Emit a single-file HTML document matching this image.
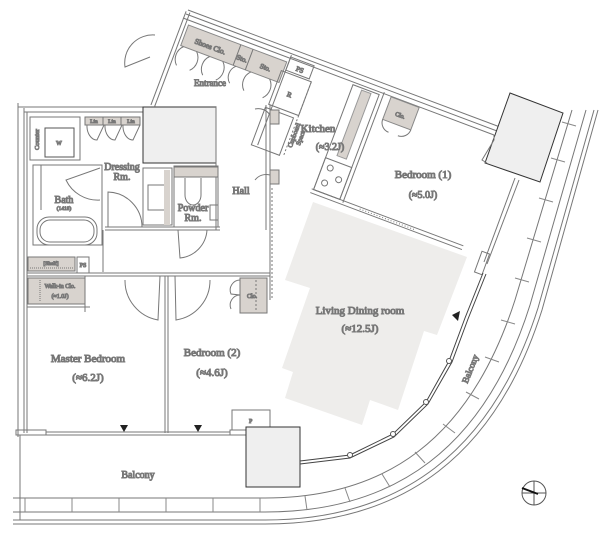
<!DOCTYPE html>
<html><head><meta charset="utf-8"><style>
html,body{margin:0;padding:0;background:#fff;}
svg{display:block;}
text{font-family:"Liberation Serif",serif;fill:#333;}
</style></head><body>
<svg width="610" height="543" viewBox="0 0 610 543" xmlns="http://www.w3.org/2000/svg">
<g fill="none" stroke="#777" stroke-width="1">

<!-- Living gray -->
<polygon points="313,202 467,257 437,335 424,331 398,410 370,400 362,425 285,398 293,372 282,368 310,288 285,280" fill="#eeedeb" stroke="none"/>

<!-- top wall -->
<line x1="188" y1="10" x2="500" y2="127"/>
<line x1="186" y1="14" x2="497" y2="131"/>
<line x1="183" y1="18" x2="494" y2="135"/>

<!-- Entrance rotated group -->
<g transform="translate(188,12) rotate(20.6)">
  <rect x="5" y="12" width="105" height="22" fill="#d8d3ce" stroke="#888"/>
  <line x1="61" y1="12" x2="61" y2="34"/>
  <line x1="74" y1="12" x2="74" y2="34"/>
  <line x1="-2" y1="0" x2="-2" y2="100"/>
  <line x1="2" y1="0" x2="2" y2="100"/>
  <path d="M8,34 a14,14 0 0 0 0,20 M22,34 a14,14 0 0 1 0,20 M36,34 a14,14 0 0 0 0,20 M50,34 a14,14 0 0 1 0,20 M64,34 a12,12 0 0 0 0,18 M80,34 a14,14 0 0 0 0,20 M100,34 a14,14 0 0 1 0,20"/>
  <line x1="112" y1="4" x2="112" y2="100"/>
  <rect x="112" y="6" width="25" height="14" />
  <rect x="108" y="22" width="32" height="36"/>
  <text x="124" y="44" font-size="7" text-anchor="middle">R</text>
  <text transform="translate(33,27)" font-size="7.5" text-anchor="middle">Shoes Clo.</text>
  <text transform="translate(67,27)" font-size="7" text-anchor="middle">Sto.</text>
  <text transform="translate(92,27)" font-size="7" text-anchor="middle">Sto.</text>
  <text transform="translate(125,17)" font-size="7" text-anchor="middle">PS</text>
  <line x1="140" y1="22" x2="140" y2="100" stroke-dasharray="2,2"/>
  <rect x="106" y="62" width="30" height="40"/>
  <!-- kitchen counter -->
  <rect x="190" y="12" width="10" height="70" fill="#d8d3ce" stroke="#999"/>
  <rect x="180" y="10" width="28" height="112"/>
  <rect x="180" y="88" width="28" height="34"/>
  <circle cx="188" cy="96" r="3"/><circle cx="200" cy="104" r="3"/><circle cx="188" cy="112" r="3"/>
  <line x1="212" y1="6" x2="212" y2="124"/>
  <!-- Clo in bedroom1 -->
  <rect x="220" y="8" width="30" height="24" fill="#d8d3ce" stroke="#888"/>
  <text x="235" y="24" font-size="6" text-anchor="middle">Clo.</text>
  <path d="M220,32 a10,10 0 0 0 10,10 M250,32 a10,10 0 0 1 -10,10"/>
  <line x1="178" y1="122" x2="340" y2="122"/>
  <line x1="178" y1="126" x2="340" y2="126"/>
  <line x1="230" y1="124" x2="290" y2="124" stroke-dasharray="1,2"/>
</g>
<text x="210" y="86" font-size="9" text-anchor="middle">Entrance</text>
<g transform="translate(296,136) rotate(-70)"><text font-size="6.5" text-anchor="middle">Cupboard</text><text y="7" font-size="6.5" text-anchor="middle">Space</text></g>

<!-- entrance door swing -->
<path d="M150,57 L125,67 A28,28 0 0 1 155,35"/>
<rect x="270" y="110" width="9" height="14" fill="#d8d3ce"/>
<rect x="270" y="170" width="9" height="14" fill="#d8d3ce"/>
<path d="M270,115 a14,14 0 0 0 -15,-6 M270,175 a14,14 0 0 0 -15,5"/>

<!-- left building outer -->
<line x1="18" y1="103" x2="18" y2="437"/>
<line x1="24" y1="108" x2="24" y2="433"/>
<line x1="18" y1="107" x2="143" y2="107"/>
<line x1="24" y1="112" x2="143" y2="112"/>
<line x1="27" y1="112" x2="27" y2="433"/>
<rect x="30" y="117" width="50" height="43"/>
<rect x="45" y="128" width="29" height="29" stroke="#555"/>
<text x="59" y="145" font-size="6" text-anchor="middle">W</text>
<g transform="translate(39,150) rotate(-90)"><text font-size="6.5">Counter</text></g>
<rect x="85" y="117" width="55" height="8" fill="#d8d3ce"/>
<line x1="103" y1="117" x2="103" y2="125"/><line x1="121" y1="117" x2="121" y2="125"/>
<text x="94" y="123" font-size="5.5" text-anchor="middle">Lin</text>
<text x="112" y="123" font-size="5.5" text-anchor="middle">Lin</text>
<text x="131" y="123" font-size="5.5" text-anchor="middle">Lin</text>
<path d="M87,125 a10,14 0 0 0 10,15 L104,125 M105,125 a10,14 0 0 0 10,15 L122,125 M123,125 a10,14 0 0 0 10,15 L140,125"/>
<rect x="143" y="107" width="73" height="56" fill="#efefef" stroke="#333"/>
<line x1="216" y1="107" x2="216" y2="230"/>
<rect x="33" y="165" width="69" height="80"/>
<rect x="37" y="217" width="60" height="28" rx="12"/>
<rect x="40" y="220" width="54" height="22" rx="10"/>
<line x1="41" y1="165" x2="41" y2="210"/>
<text x="64" y="203" font-size="10" text-anchor="middle">Bath</text>
<text x="64" y="210" font-size="5.5" text-anchor="middle">(1418)</text>
<path d="M100,168 L66,180 A35,35 0 0 0 100,200"/>
<text x="122" y="170" font-size="10" text-anchor="middle">Dressing</text>
<text x="122" y="180" font-size="10" text-anchor="middle">Rm.</text>
<path d="M108,227 L108,192 A35,35 0 0 1 142,227"/>
<line x1="105" y1="227" x2="220" y2="227"/>
<line x1="105" y1="230" x2="220" y2="230"/>
<rect x="143" y="168" width="29" height="57"/>
<rect x="148" y="185" width="17" height="25"/>
<rect x="164" y="170" width="6" height="55" fill="#d8d3ce" stroke="none"/>
<rect x="174" y="166" width="44" height="61"/>
<rect x="174" y="167" width="44" height="10" fill="#d8d3ce"/>
<path d="M185,178 L185,195 A8,10 0 0 0 201,195 L201,178"/>
<rect x="210" y="205" width="8" height="15"/>
<text x="193" y="211" font-size="10" text-anchor="middle">Powder</text>
<text x="193" y="221" font-size="10" text-anchor="middle">Rm.</text>
<path d="M178,230 L180,258 A30,30 0 0 0 207,230"/>
<text x="241" y="194" font-size="10" text-anchor="middle">Hall</text>
<line x1="266" y1="105" x2="266" y2="230"/>
<line x1="270" y1="105" x2="270" y2="300"/>
<line x1="272" y1="188" x2="272" y2="300" stroke-dasharray="2,2"/>
<line x1="103" y1="230" x2="103" y2="272"/>
<rect x="28" y="257" width="47" height="14" fill="#d8d3ce"/>
<line x1="30" y1="268" x2="73" y2="268" stroke-dasharray="1,1"/>
<text x="51" y="265" font-size="5.5" text-anchor="middle">[Shelf]</text>
<rect x="77" y="257" width="12" height="16"/>
<text x="83" y="267" font-size="6" text-anchor="middle">PS</text>
<rect x="28" y="278" width="57" height="26" fill="#d8d3ce"/>
<line x1="40" y1="280" x2="40" y2="302" stroke-dasharray="1,1"/>
<text x="60" y="288" font-size="6" text-anchor="middle">Walk-in Clo.</text>
<text x="60" y="298" font-size="6" text-anchor="middle">(≈1.0J)</text>
<line x1="27" y1="273" x2="270" y2="273"/>
<line x1="27" y1="276" x2="270" y2="276"/>
<line x1="85" y1="276" x2="85" y2="312"/>
<line x1="27" y1="307" x2="90" y2="307"/>
<path d="M160,276 L158,320 A40,40 0 0 1 125,280"/>
<path d="M175,276 L176,320 A40,40 0 0 0 210,280"/>
<line x1="165" y1="276" x2="165" y2="433"/>
<line x1="168" y1="276" x2="168" y2="433"/>
<rect x="240" y="278" width="27" height="35" fill="#d8d3ce"/>
<line x1="256" y1="280" x2="256" y2="311" stroke-dasharray="2,2"/>
<text x="247" y="298" font-size="6">Clo.</text>
<path d="M240,280 a10,10 0 0 0 -9,14 L240,295 a10,10 0 0 0 -9,14"/>
<rect x="16" y="430" width="30" height="5"/>
<line x1="46" y1="432" x2="230" y2="432"/>
<line x1="46" y1="435" x2="230" y2="435"/>
<rect x="230" y="430" width="16" height="5"/>
<polygon points="120,425 128,425 124,432" fill="#222" stroke="none"/>
<polygon points="194,425 202,425 198,432" fill="#222" stroke="none"/>
<path d="M232,430 L232,410 L270,410 L270,427"/>
<text x="249" y="423" font-size="6">P</text>
<rect x="246" y="427" width="54" height="60" fill="#efefef" stroke="#333"/>
<line x1="20" y1="435" x2="20" y2="520"/>
<text x="88" y="362" font-size="11" text-anchor="middle">Master Bedroom</text>
<text x="88" y="381" font-size="11" text-anchor="middle">(≈6.2J)</text>
<text x="212" y="356" font-size="11" text-anchor="middle">Bedroom (2)</text>
<text x="212" y="376" font-size="11" text-anchor="middle">(≈4.6J)</text>
<text x="138" y="478" font-size="10" text-anchor="middle">Balcony</text>
<text x="360" y="314" font-size="11" text-anchor="middle">Living Dining room</text>
<text x="360" y="332" font-size="11" text-anchor="middle">(≈12.5J)</text>
<text x="318" y="132" font-size="11" text-anchor="middle">Kitchen</text>
<text x="330" y="150" font-size="10" text-anchor="middle">(≈3.2J)</text>
<text x="423" y="178" font-size="11" text-anchor="middle">Bedroom (1)</text>
<text x="423" y="198" font-size="10" text-anchor="middle">(≈5.0J)</text>
<text transform="translate(473,370) rotate(-68)" font-size="9" text-anchor="middle">Balcony</text>

<polygon points="510,93 563,113 540,182 485,163" fill="#efefef" stroke="#333"/>
<path d="M494,135 L494,140 L482,160 L487,163"/>
<line x1="515" y1="178" x2="484" y2="262"/>
<line x1="519" y1="180" x2="487" y2="264"/>
<rect x="478" y="252" width="8" height="22" transform="rotate(20 482 263)"/>
<polygon points="452,315 460,311 458,321" fill="#222" stroke="none"/>
<polyline points="300,461 350,455 393,434 426,402 449,361 465,318 483,273" stroke="#444"/>
<polyline points="300,464 350,458 394,437 428,404 452,362 468,319 486,274" stroke="#444"/>
<g fill="#fff" stroke="#555"><circle cx="350" cy="455" r="2.5"/><circle cx="393" cy="434" r="2.5"/><circle cx="426" cy="402" r="2.5"/><circle cx="449" cy="361" r="2.5"/></g>

<path d="M13,498 L265,498 C385,498 470,440 515,300 L572,110"/>
<path d="M13,512 L265,512 C395,512 485,448 530,305 L586,110"/>
<path d="M13,520 L265,520 C400,520 492,452 538,308 L594,110"/>
<path d="M13,524 L265,524 C404,524 496,455 542,310 L598,110"/>
<g stroke="#888">
<line x1="25" y1="498" x2="25" y2="512"/><line x1="72" y1="498" x2="72" y2="512"/><line x1="119" y1="498" x2="119" y2="512"/><line x1="166" y1="498" x2="166" y2="512"/><line x1="213" y1="498" x2="213" y2="512"/><line x1="260" y1="498" x2="260" y2="512"/>
<line x1="305" y1="496" x2="307" y2="510"/><line x1="345" y1="488" x2="350" y2="502"/><line x1="382" y1="474" x2="390" y2="487"/><line x1="415" y1="452" x2="425" y2="463"/><line x1="443" y1="424" x2="455" y2="433"/><line x1="466" y1="392" x2="479" y2="399"/><line x1="485" y1="357" x2="499" y2="362"/><line x1="501" y1="320" x2="515" y2="324"/><line x1="515" y1="278" x2="529" y2="282"/><line x1="527" y1="238" x2="541" y2="242"/><line x1="539" y1="198" x2="553" y2="202"/><line x1="551" y1="158" x2="565" y2="162"/><line x1="562" y1="122" x2="576" y2="126"/>
</g>
<circle cx="534" cy="493" r="12" stroke="#555"/>
<line x1="522" y1="493" x2="546" y2="493" stroke="#555"/>
<line x1="534" y1="481" x2="534" y2="505" stroke="#555"/>
<line x1="522" y1="488" x2="538" y2="494" stroke="#111" stroke-width="2"/>
</g>
</svg>
</body></html>
